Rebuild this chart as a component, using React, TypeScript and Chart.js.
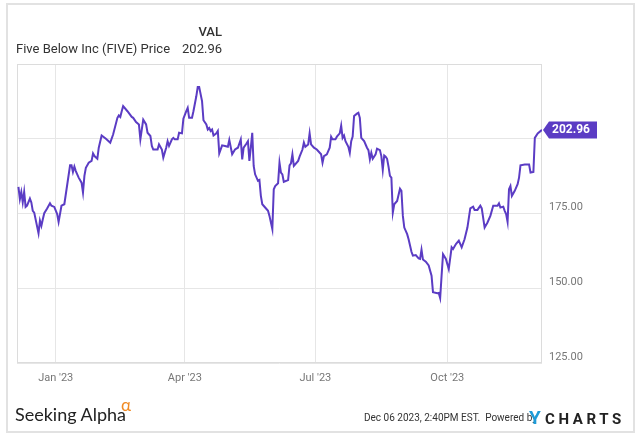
import React, { useEffect, useRef } from "react";
import { Chart, registerables } from "chart.js";

Chart.register(...registerables);

// Days since 2023-01-01 (trading days sampled from the chart)
const dayOffsets = [
  -26, -25, -24, -23, -22, -21, -20, -18, -17, -16, -15, -12, -11, -10, -9, -8, -6, -4, -3, -1,
  1, 2, 4, 6, 10, 11, 12, 13, 14, 16, 18, 19, 20, 21, 23, 25, 26, 27, 29, 30,
  32, 35, 38, 40, 43, 44, 45, 46, 47, 50, 53, 54, 56, 58, 59, 61, 63, 64, 66, 67,
  68, 71, 72, 74, 75, 77, 78, 79, 81, 82, 83, 85, 86, 88, 89, 91, 92, 93, 95, 96,
  98, 99, 100, 102, 103, 105, 106, 107, 108, 109, 110, 112, 113, 114, 116, 118, 120, 121, 123, 125,
  127, 129, 130, 131, 133, 134, 135, 136, 137, 138, 139, 141, 142, 143, 144, 146, 148, 149, 151, 152,
  153, 155, 156, 157, 158, 159, 162, 163, 164, 165, 166, 169, 170, 172, 173, 174, 176, 177, 178, 180,
  182, 185, 186, 187, 189, 191, 192, 193, 195, 196, 198, 199, 200, 201, 202, 204, 205, 206, 207, 208,
  210, 211, 212, 213, 215, 217, 218, 219, 220, 221, 223, 224, 226, 227, 228, 229, 230, 231, 232, 233,
  234, 235, 236, 238, 240, 241, 242, 243, 245, 246, 248, 249, 251, 253, 254, 255, 256, 258, 260, 262,
  263, 266, 267, 268, 269, 270, 272, 274, 276, 277, 279, 281, 283, 285, 287, 289, 291, 292, 294, 296,
  297, 299, 301, 303, 305, 308, 309, 310, 312, 313, 314, 315, 316, 317, 318, 320, 322, 323, 324, 327,
  330, 331, 333, 334, 336, 339,
];

const prices = [
  183.9, 179.8, 182.2, 178.7, 182.2, 177.2, 177.6, 180.0, 178.7, 175.9, 175.3, 168.4, 172.6, 170.9, 173.1, 175.1, 176.7, 178.4, 177.6, 177.2,
  174.8, 172.2, 177.6, 178.1, 191.1, 191.1, 188.9, 190.7, 189.2, 187.0, 185.3, 182.0, 187.6, 190.3, 192.0, 192.6, 195.1, 194.2, 193.3, 197.0,
  201.1, 200.0, 198.7, 201.4, 207.0, 207.8, 207.3, 209.2, 210.9, 209.2, 207.3, 207.0, 205.6, 204.8, 199.8, 206.4, 204.8, 202.0, 200.9, 197.6,
  196.4, 196.4, 198.1, 196.4, 193.7, 197.0, 199.2, 197.6, 199.8, 200.3, 199.8, 199.8, 202.0, 201.8, 206.7, 209.2, 210.3, 207.0, 207.0, 209.2,
  214.2, 217.3, 217.3, 212.6, 206.2, 204.8, 203.1, 203.6, 202.6, 203.1, 201.1, 201.8, 202.6, 195.1, 197.8, 197.6, 197.3, 199.6, 194.8, 196.4,
  197.0, 199.8, 193.1, 197.0, 198.4, 199.2, 192.6, 197.0, 202.0, 190.9, 188.1, 185.9, 186.2, 180.9, 178.1, 177.0, 175.9, 174.2, 169.8, 183.1,
  184.2, 185.1, 192.0, 188.7, 188.1, 185.6, 186.2, 191.1, 191.8, 194.8, 190.9, 192.6, 194.0, 196.4, 198.7, 197.3, 198.1, 201.8, 198.1, 197.0,
  196.4, 194.8, 192.0, 194.2, 194.8, 197.0, 200.7, 199.8, 199.8, 200.7, 201.8, 204.4, 200.3, 201.1, 199.2, 197.3, 195.3, 199.2, 200.7, 207.6,
  208.4, 208.7, 207.0, 200.3, 199.2, 197.0, 196.2, 193.1, 195.3, 193.3, 194.8, 196.7, 196.2, 194.2, 189.6, 194.4, 194.0, 193.3, 190.7, 187.6,
  187.0, 175.3, 178.1, 179.2, 183.3, 182.6, 174.2, 170.3, 168.1, 166.4, 162.2, 160.9, 161.1, 160.0, 159.8, 162.9, 159.6, 158.9, 157.6, 154.2,
  148.7, 148.3, 148.4, 146.7, 154.2, 161.4, 159.8, 156.4, 163.7, 163.1, 164.8, 165.9, 163.7, 166.4, 170.3, 176.7, 177.3, 176.2, 176.2, 177.6,
  176.7, 170.3, 172.0, 174.2, 177.6, 177.6, 178.4, 177.0, 177.3, 175.9, 174.8, 172.2, 183.1, 184.2, 180.9, 182.6, 184.8, 187.0, 191.1, 191.4,
  191.4, 188.7, 188.9, 200.3, 201.8, 202.96,
];

const xTickDays = [0, 90, 181, 273];
const xTickLabels = ["Jan '23", "Apr '23", "Jul '23", "Oct '23"];
const yMin = 125;
const yMax = 225;
const yStep = 25;
const yLabelMax = 175;
const lastValueLabel = "202.96";
const seriesName = "Five Below Inc (FIVE) Price";

const LINE = "#5b3cc4";
const GRID = "#e6e6e6";

const frameBorder = {
  id: "frameBorder",
  beforeDatasetsDraw(chart: any) {
    const { ctx, chartArea } = chart;
    ctx.save();
    ctx.strokeStyle = "#dcdcdc";
    ctx.lineWidth = 1;
    ctx.strokeRect(
      Math.round(chartArea.left) + 0.5,
      Math.round(chartArea.top) + 0.5,
      Math.round(chartArea.right - chartArea.left) - 1,
      Math.round(chartArea.bottom - chartArea.top) - 1
    );
    ctx.restore();
  },
};

const endLabel = {
  id: "endLabel",
  afterDatasetsDraw(chart: any) {
    const meta = chart.getDatasetMeta(0);
    const pt = meta.data[meta.data.length - 1];
    if (!pt) return;
    const { x, y } = pt;
    const ctx = chart.ctx;
    const h = 17;
    ctx.save();
    ctx.fillStyle = LINE;
    ctx.beginPath();
    ctx.moveTo(x + 1, y);
    ctx.lineTo(x + 7, y - h / 2);
    ctx.lineTo(x + 55, y - h / 2);
    ctx.lineTo(x + 55, y + h / 2);
    ctx.lineTo(x + 7, y + h / 2);
    ctx.closePath();
    ctx.fill();
    ctx.fillStyle = "#ffffff";
    ctx.font = "bold 12px Roboto";
    ctx.textBaseline = "middle";
    ctx.textAlign = "left";
    ctx.fillText(lastValueLabel, x + 10, y + 0.5);
    ctx.restore();
  },
};

export default function App() {
  const canvasRef = useRef<HTMLCanvasElement | null>(null);

  useEffect(() => {
    if (!canvasRef.current) return;
    const points = dayOffsets.map((d, i) => ({ x: d, y: prices[i] }));
    const chart = new Chart(canvasRef.current, {
      type: "line",
      data: {
        datasets: [
          {
            label: seriesName,
            data: points,
            borderColor: LINE,
            borderWidth: 2,
            pointRadius: 0,
            tension: 0,
            fill: false,
          },
        ],
      },
      options: {
        animation: false,
        responsive: false,
        maintainAspectRatio: false,
        layout: { padding: { left: 17, top: 64, right: 0, bottom: 0 } },
        plugins: {
          legend: { display: false },
          tooltip: { enabled: false },
        },
        scales: {
          x: {
            type: "linear",
            min: -27,
            max: 339,
            afterBuildTicks: (scale: any) => {
              scale.ticks = xTickDays.map((v) => ({ value: v }));
            },
            afterFit: (scale: any) => {
              scale.height = 74;
            },
            ticks: {
              autoSkip: false,
              maxRotation: 0,
              padding: 9,
              color: "#777777",
              font: { family: "Roboto", size: 11 },
              callback: (v: any) => {
                const i = xTickDays.indexOf(Number(v));
                return i >= 0 ? xTickLabels[i] : "";
              },
            },
            grid: { color: GRID, drawTicks: false, lineWidth: 1 },
            border: { display: false },
          },
          y: {
            position: "right",
            min: yMin,
            max: yMax,
            afterFit: (scale: any) => {
              scale.width = 98;
            },
            ticks: {
              stepSize: yStep,
              padding: 7,
              labelOffset: -6,
              color: "#777777",
              font: { family: "Roboto", size: 11 },
              callback: (v: any) => (Number(v) <= yLabelMax ? Number(v).toFixed(2) : ""),
            },
            grid: { color: GRID, drawTicks: false, lineWidth: 1 },
            border: { display: false },
          },
        },
      },
      plugins: [frameBorder, endLabel],
    });
    return () => chart.destroy();
  }, []);

  const txt: React.CSSProperties = {
    position: "absolute",
    fontFamily: "Roboto, sans-serif",
    whiteSpace: "nowrap",
  };

  return (
    <div
      style={{
        position: "fixed",
        left: 0,
        top: 0,
        width: 640,
        height: 437,
        background: "#ffffff",
        overflow: "hidden",
      }}
    >
      <div
        style={{
          position: "absolute",
          left: 6,
          top: 3,
          right: 5,
          bottom: 4,
          border: "2px solid #e2e2e2",
          boxSizing: "border-box",
        }}
      />
      <canvas
        ref={canvasRef}
        width={640}
        height={437}
        style={{ position: "absolute", left: 0, top: 0, width: 640, height: 437 }}
      />
      <div style={{ ...txt, right: 418, top: 24, fontSize: 13, lineHeight: "16px", fontWeight: 500, color: "#333" }}>VAL</div>
      <div style={{ ...txt, left: 16, top: 41, fontSize: 13, lineHeight: "16px", color: "#333" }}>{seriesName}</div>
      <div style={{ ...txt, right: 418, top: 41, fontSize: 13, lineHeight: "16px", color: "#333" }}>{lastValueLabel}</div>

      <div style={{ ...txt, left: 15, top: 403, fontFamily: "Lato, sans-serif", fontSize: 18, lineHeight: "22px", color: "#222" }}>
        Seeking Alpha
      </div>
      <div style={{ ...txt, left: 121, top: 396, fontFamily: "Lato, sans-serif", fontSize: 17, lineHeight: "18px", color: "#f08a24" }}>
        α
      </div>
      <div style={{ ...txt, left: 364, top: 412, fontSize: 10, lineHeight: "12px", color: "#333" }}>
        Dec 06 2023, 2:40PM EST.&nbsp; Powered by
      </div>
      <div style={{ ...txt, left: 529, top: 408, fontSize: 19, lineHeight: "20px", fontWeight: 700, color: "#1e9bd7" }}>Y</div>
      <div style={{ ...txt, left: 545, top: 410, fontSize: 15, lineHeight: "18px", fontWeight: 700, letterSpacing: 3.6, color: "#222" }}>
        CHARTS
      </div>
    </div>
  );
}
